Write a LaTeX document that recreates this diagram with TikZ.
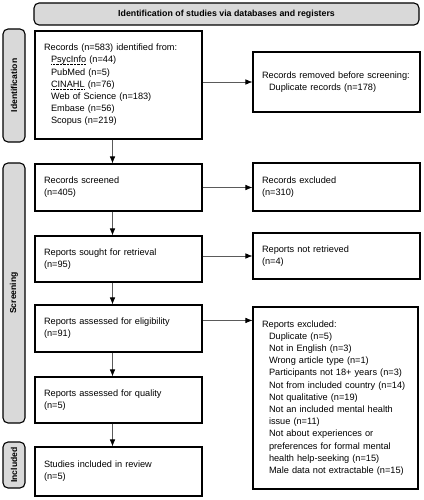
\documentclass[tikz,border=0pt]{standalone}
\usepackage{fontspec}
\setmainfont{Liberation Sans}
\usetikzlibrary{arrows.meta,calc}
\definecolor{bargray}{RGB}{217,217,217}
\definecolor{linegray}{RGB}{90,90,90}
\newcommand{\dotund}[1]{\leavevmode\setbox0\hbox{#1}\rlap{\raisebox{-1.8pt}{\hbox to \wd0{\leaders\hbox to 1.4pt{\hss\rule{0.6pt}{0.6pt}\hss}\hfil}}}\box0\relax}

\begin{document}
\begin{tikzpicture}[x=1pt,y=-1pt,
    box/.style={draw=black,line width=1.1pt,rectangle,align=left,inner xsep=9pt,font=\fontsize{9.2}{12.2}\selectfont},
    side/.style={draw=black,line width=1.1pt,rounded corners=5pt,fill=bargray},
    arr/.style={draw=linegray,line width=0.6pt,-{Latex[length=7pt,width=5.5pt,color=black]}}]
    \useasboundingbox (0,0) rectangle (423,500);
    % banner and phase bars
    \draw[side] (34,3) rectangle (419,25);
    \node (banner) at (226.5,14) {\fontsize{8.8}{10}\selectfont\bfseries Identification of studies via databases and registers};
    \draw[side] (3,29) rectangle (25,142);
    \node[rotate=90] (idlab) at (14,85.5) {\fontsize{8.6}{10}\selectfont\bfseries Identification};
    \draw[side] (3,163) rectangle (25,423);
    \node[rotate=90] (scrlab) at (14,293) {\fontsize{8.6}{10}\selectfont\bfseries Screening};
    \draw[side] (3,442) rectangle (25,488);
    \node[rotate=90] (inclab) at (14,465) {\fontsize{8.6}{10}\selectfont\bfseries Included};
    % left column
    \node[box,text width=149pt,minimum height=108pt] (records) at (118.5,85) {Records (n=583) identified from:\\
      \hspace*{7pt}\dotund{PsycInfo} (n=44)\\
      \hspace*{7pt}PubMed (n=5)\\
      \hspace*{7pt}\dotund{CINAHL} (n=76)\\
      \hspace*{7pt}Web of Science (n=183)\\
      \hspace*{7pt}Embase (n=56)\\
      \hspace*{7pt}Scopus (n=219)};
    \node[box,text width=149pt,minimum height=47pt] (screened) at (118.5,187.5) {Records screened\\(n=405)};
    \node[box,text width=149pt,minimum height=46pt] (sought) at (118.5,259) {Reports sought for retrieval\\(n=95)};
    \node[box,text width=149pt,minimum height=47pt] (assessed) at (118.5,328.5) {Reports assessed for eligibility\\(n=91)};
    \node[box,text width=149pt,minimum height=46pt] (quality) at (118.5,400) {Reports assessed for quality\\(n=5)};
    \node[box,text width=149pt,minimum height=49pt] (included) at (118.5,471.5) {Studies included in review\\(n=5)};
    % right column
    \node[box,text width=149pt,minimum height=60pt] (removed) at (336.5,82) {Records removed before screening:\\
      \hspace*{7pt}Duplicate records (n=178)};
    \node[box,text width=149pt,minimum height=48pt] (excluded) at (336.5,187) {Records excluded\\(n=310)};
    \node[box,text width=149pt,minimum height=46pt] (notretr) at (336.5,256) {Reports not retrieved\\(n=4)};
    \node[box,text width=147pt,minimum height=182pt] (repexcl) at (335.5,398) {Reports excluded:\\
      \hspace*{7pt}Duplicate (n=5)\\
      \hspace*{7pt}Not in English (n=3)\\
      \hspace*{7pt}Wrong article type (n=1)\\
      \hspace*{7pt}Participants not 18+ years (n=3)\\
      \hspace*{7pt}Not from included country (n=14)\\
      \hspace*{7pt}Not qualitative (n=19)\\
      \hspace*{7pt}Not an included mental health\\
      \hspace*{7pt}issue (n=11)\\
      \hspace*{7pt}Not about experiences or\\
      \hspace*{7pt}preferences for formal mental\\
      \hspace*{7pt}health help-seeking (n=15)\\
      \hspace*{7pt}Male data not extractable (n=15)};
    % arrows down
    \draw[arr] ([xshift=-6pt]records.south) -- ([xshift=-6pt]screened.north);
    \draw[arr] ([xshift=-6pt]screened.south) -- ([xshift=-6pt]sought.north);
    \draw[arr] ([xshift=-6pt]sought.south) -- ([xshift=-6pt]assessed.north);
    \draw[arr] ([xshift=-6pt]assessed.south) -- ([xshift=-6pt]quality.north);
    \draw[arr] ([xshift=-6pt]quality.south) -- ([xshift=-6pt]included.north);
    % arrows across
    \draw[arr] (records.east |- removed.west) -- (removed.west);
    \draw[arr] (screened.east) -- (excluded.west |- screened.east);
    \draw[arr] (sought.east |- notretr.west) -- (notretr.west);
    \draw[arr] ([yshift=-16pt]assessed.north east) -- ([yshift=-16pt]assessed.north east -| repexcl.west);
\end{tikzpicture}
\end{document}
